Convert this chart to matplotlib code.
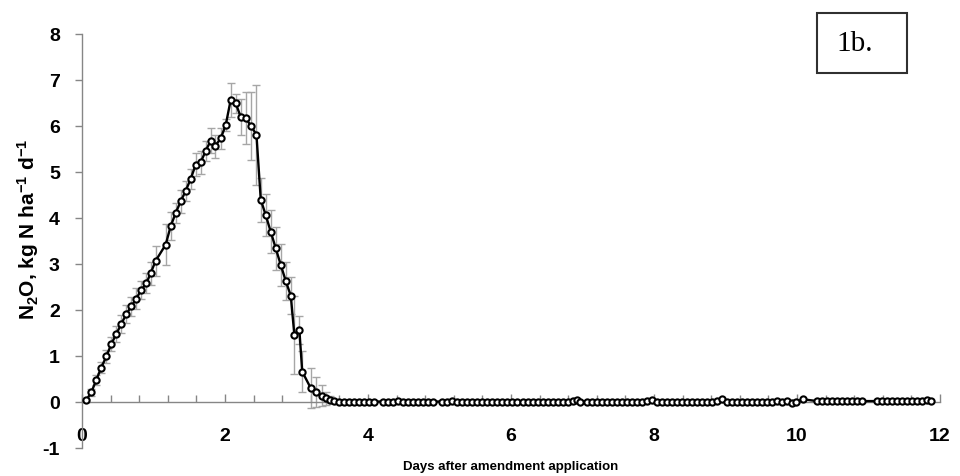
import matplotlib
matplotlib.use("Agg")
import matplotlib.pyplot as plt
from matplotlib.ticker import MultipleLocator
from matplotlib.patches import Rectangle

# N2O flux after amendment: peak event (with SD) and the near-zero tail
t_peak = [0.06, 0.13, 0.20, 0.27, 0.34, 0.41, 0.48, 0.55, 0.62, 0.69,
          0.76, 0.83, 0.90, 0.96, 1.03, 1.17, 1.24, 1.31, 1.38, 1.45,
          1.52, 1.59, 1.66, 1.73, 1.80, 1.86, 1.94, 2.01, 2.08, 2.15,
          2.22, 2.29, 2.36, 2.44, 2.50, 2.57, 2.64, 2.71, 2.78, 2.85,
          2.92, 2.97, 3.04, 3.08, 3.20, 3.27, 3.35, 3.41, 3.47, 3.53]
n2o_peak = [0.04, 0.21, 0.48, 0.75, 0.99, 1.26, 1.48, 1.70, 1.91, 2.08,
            2.25, 2.44, 2.58, 2.80, 3.07, 3.42, 3.82, 4.11, 4.36, 4.59,
            4.85, 5.16, 5.21, 5.46, 5.68, 5.56, 5.73, 6.02, 6.57, 6.49,
            6.20, 6.17, 6.01, 5.81, 4.40, 4.06, 3.70, 3.34, 2.98, 2.63,
            2.31, 1.46, 1.57, 0.66, 0.30, 0.22, 0.14, 0.08, 0.05, 0.02]
sd_peak = [0.03, 0.08, 0.10, 0.12, 0.14, 0.15, 0.17, 0.19, 0.20, 0.20,
           0.22, 0.20, 0.22, 0.25, 0.33, 0.45, 0.30, 0.22, 0.25, 0.22,
           0.22, 0.25, 0.25, 0.22, 0.27, 0.25, 0.22, 0.13, 0.37, 0.20,
           0.39, 0.57, 0.74, 1.09, 0.48, 0.46, 0.47, 0.46, 0.45, 0.42,
           0.40, 0.85, 0.30, 0.44, 0.43, 0.32, 0.23, 0.14, 0.07, 0.04]

t_tail = [3.60, 3.67, 3.74, 3.81, 3.88, 3.95, 4.02, 4.09,
          4.21, 4.28, 4.35, 4.42, 4.49, 4.56, 4.63, 4.70, 4.77, 4.84, 4.91,
          5.03, 5.10, 5.17, 5.24, 5.31, 5.38, 5.45, 5.52, 5.59, 5.66, 5.73,
          5.80, 5.87, 5.94, 6.01, 6.08,
          6.17, 6.24, 6.31, 6.38, 6.45, 6.52, 6.59, 6.66, 6.73, 6.80, 6.87,
          6.92, 6.97,
          7.06, 7.13, 7.20, 7.27, 7.34, 7.41, 7.48, 7.55, 7.62, 7.69, 7.76,
          7.83, 7.90, 7.97,
          8.04, 8.11, 8.18, 8.25, 8.32, 8.39, 8.46, 8.53, 8.60, 8.67, 8.74,
          8.81, 8.88, 8.95, 9.02, 9.09, 9.16, 9.23, 9.30, 9.37, 9.44, 9.51,
          9.58, 9.65, 9.72, 9.79, 9.86, 9.93, 9.98, 10.08,
          10.28, 10.35, 10.42, 10.49, 10.56, 10.63, 10.70, 10.77, 10.84, 10.91,
          11.12, 11.19, 11.26, 11.33, 11.40, 11.47, 11.54, 11.61, 11.68,
          11.75, 11.82, 11.88]
n2o_tail = [0.01, 0.01, 0.01, 0.01, 0.01, 0.01, 0.01, 0.01,
            0.01, 0.01, 0.01, 0.02, 0.01, 0.01, 0.01, 0.01, 0.01, 0.01, 0.01,
            0.01, 0.01, 0.03, 0.01, 0.01, 0.01, 0.01, 0.01, 0.01, 0.01, 0.01,
            0.01, 0.01, 0.01, 0.01, 0.01,
            0.01, 0.01, 0.01, 0.01, 0.01, 0.01, 0.01, 0.01, 0.01, 0.01, 0.02,
            0.04, 0.01,
            0.01, 0.01, 0.01, 0.01, 0.01, 0.01, 0.01, 0.01, 0.01, 0.01, 0.01,
            0.01, 0.02, 0.04,
            0.01, 0.01, 0.01, 0.01, 0.01, 0.01, 0.01, 0.01, 0.01, 0.01, 0.01,
            0.01, 0.02, 0.06, 0.01, 0.01, 0.01, 0.01, 0.01, 0.01, 0.01, 0.01,
            0.01, 0.01, 0.02, 0.01, 0.02, -0.02, 0.00, 0.06,
            0.02, 0.02, 0.02, 0.02, 0.03, 0.02, 0.02, 0.03, 0.02, 0.02,
            0.02, 0.02, 0.02, 0.02, 0.02, 0.02, 0.02, 0.02, 0.02,
            0.02, 0.04, 0.02]

x_ticks = [0, 2, 4, 6, 8, 10, 12]
y_ticks = [-1, 0, 1, 2, 3, 4, 5, 6, 7, 8]

plt.rcParams['font.family'] = ['Liberation Sans', 'DejaVu Sans']
plt.rcParams['font.weight'] = 'bold'
plt.rcParams['axes.unicode_minus'] = False
plt.rcParams['mathtext.fontset'] = 'custom'
plt.rcParams['mathtext.rm'] = 'Liberation Sans:bold'
plt.rcParams['mathtext.default'] = 'rm'

axis_gray = '#868686'
bar_gray = '#a6a6a6'

fig = plt.figure(figsize=(9.6, 4.77), dpi=100)
ax = fig.add_axes([82 / 960, 28 / 477, 858 / 960, 414 / 477])

ax.errorbar(t_peak, n2o_peak, yerr=sd_peak, fmt='none', ecolor=bar_gray,
            elinewidth=1, capsize=3, capthick=1, zorder=2)
ax.plot(t_peak + t_tail, n2o_peak + n2o_tail, color='black', lw=1.7,
        marker='o', markersize=4.5, markerfacecolor='white',
        markeredgecolor='black', markeredgewidth=1.5, zorder=3)

ax.set_xlim(0, 12)
ax.set_ylim(-1, 8)
ax.set_xticks(x_ticks)
ax.set_yticks(y_ticks)
ax.xaxis.set_minor_locator(MultipleLocator(0.4))

ax.spines['top'].set_visible(False)
ax.spines['right'].set_visible(False)
ax.spines['bottom'].set_position(('data', 0))
for side in ['left', 'bottom']:
    ax.spines[side].set_color(axis_gray)
    ax.spines[side].set_linewidth(1)

ax.tick_params(axis='x', which='both', direction='in', color=axis_gray,
               width=1, pad=18)
ax.tick_params(axis='x', which='major', length=6)
ax.tick_params(axis='x', which='minor', length=5)
ax.tick_params(axis='y', direction='out', length=5, color=axis_gray,
               width=1, pad=11)
for lab in ax.get_xticklabels() + ax.get_yticklabels():
    lab.set_fontsize(14)
    lab.set_fontweight('bold')

ax.set_xlabel('Days after amendment application', fontsize=9.5,
              fontweight='bold')
ax.xaxis.set_label_coords(0.5, -0.03)
ax.set_ylabel(r'N$_{2}$O, kg N ha$^{-1}$ d$^{-1}$', fontsize=15,
              fontweight='bold')
ax.yaxis.set_label_coords(-0.048, 0.53)

# panel tag in a framed box
fig.patches.append(Rectangle((817 / 960, 1 - 74 / 477), 90 / 960, 60 / 477,
                             transform=fig.transFigure, facecolor='white',
                             edgecolor='#303030', lw=1.5))
fig.text(836 / 960, 1 - 44 / 477, '1b.', family='Liberation Serif',
         fontweight='normal', fontsize=21, va='center', ha='left')

fig.savefig('out.png', dpi=100)
